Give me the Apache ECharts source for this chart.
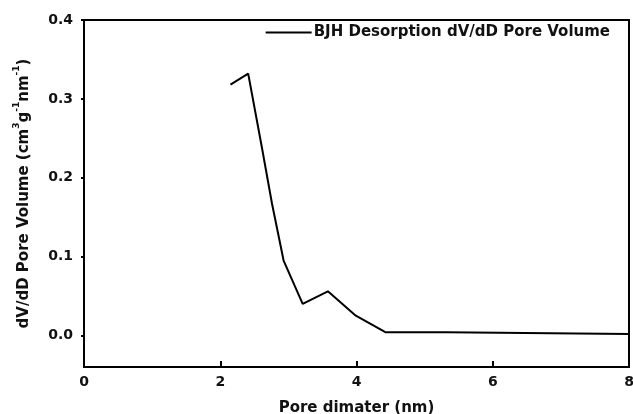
<!DOCTYPE html>
<html>
<head>
<meta charset="utf-8">
<script src="https://cdn.jsdelivr.net/npm/echarts@6/dist/echarts.min.js"></script>
<style>
  html, body { margin: 0; padding: 0; background: #fff; }
  #chart { width: 633px; height: 414px; }
</style>
</head>
<body>
<div id="chart"></div>
<script>
// Pore diameter (nm) and BJH dV/dD values
const poreDiameter = [2.15, 2.41, 2.61, 2.76, 2.93, 3.21, 3.58, 3.99, 4.43, 5.32, 5.34, 8.0];
const poreVolume = [0.318, 0.332, 0.239, 0.167, 0.095, 0.040, 0.056, 0.025, 0.004, 0.004, 0.002, 0.002];
const xTicks = [0, 2, 4, 6, 8];
const yTicks = [0, 0.1, 0.2, 0.3, 0.4];

const font = "'DejaVu Sans', sans-serif";
const chart = echarts.init(document.getElementById("chart"));

const seriesData = poreDiameter.map((d, i) => [d, poreVolume[i]]);

chart.setOption({
  animation: false,
  backgroundColor: "#fff",
  grid: {
    left: 84, top: 20, right: 4, bottom: 47,
    outerBoundsMode: "none", containLabel: false,
    show: true, borderColor: "#000", borderWidth: 2
  },
  legend: {
    right: 18, top: 20,
    icon: "rect", itemWidth: 46, itemHeight: 2, itemGap: 0,
    textStyle: { fontFamily: font, fontWeight: "bold", fontSize: 15, color: "#111", padding: [0, 0, 0, -3] },
    data: ["BJH Desorption dV/dD Pore Volume"]
  },
  xAxis: {
    type: "value", min: 0, max: 8,
    name: "Pore dimater (nm)", nameLocation: "middle", nameGap: 34,
    nameTextStyle: { fontFamily: font, fontWeight: "bold", fontSize: 15, color: "#111" },
    axisLine: { onZero: false, lineStyle: { color: "#000", width: 2 } },
    axisTick: { inside: true, length: 6, lineStyle: { color: "#000", width: 2 }, customValues: xTicks },
    axisLabel: { fontFamily: font, fontWeight: "bold", fontSize: 14, color: "#111", margin: 8, customValues: xTicks },
    splitLine: { show: false }
  },
  yAxis: {
    type: "value", min: -0.04, max: 0.4,
    name: "{a|dV/dD Pore Volume (cm}{s|3}{a|g}{s|-1}{a|nm}{s|-1}{a|)}",
    nameLocation: "middle", nameGap: 52,
    nameTextStyle: {
      fontFamily: font, fontWeight: "bold", fontSize: 15, color: "#111",
      rich: {
        a: { fontFamily: font, fontWeight: "bold", fontSize: 15, color: "#111", lineHeight: 20, verticalAlign: "bottom" },
        s: { fontFamily: font, fontWeight: "bold", fontSize: 9, color: "#111", lineHeight: 20, verticalAlign: "top" }
      }
    },
    axisLine: { onZero: false, lineStyle: { color: "#000", width: 2 } },
    axisTick: { length: 3, lineStyle: { color: "#000", width: 2 }, customValues: yTicks },
    axisLabel: {
      fontFamily: font, fontWeight: "bold", fontSize: 14, color: "#111", margin: 11,
      customValues: yTicks, formatter: (v) => v.toFixed(1)
    },
    splitLine: { show: false }
  },
  series: [{
    name: "BJH Desorption dV/dD Pore Volume",
    type: "line",
    data: seriesData,
    showSymbol: false,
    lineStyle: { color: "#000", width: 2 },
    itemStyle: { color: "#000" }
  }]
});
</script>
</body>
</html>
